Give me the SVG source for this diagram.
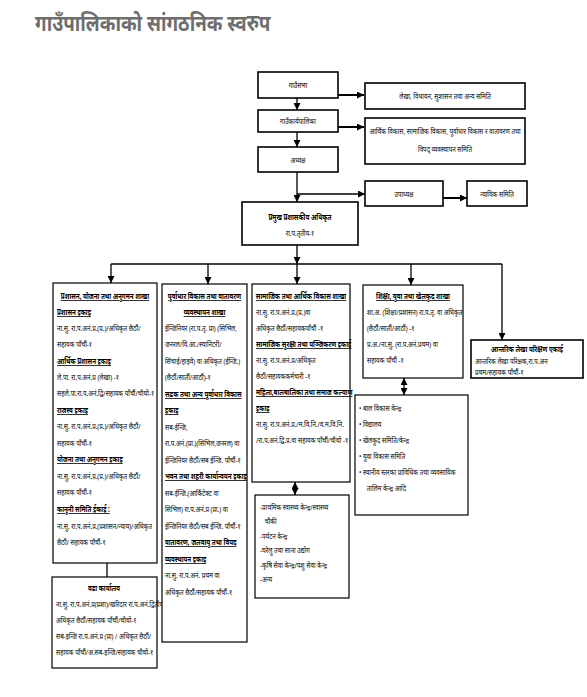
<svg xmlns="http://www.w3.org/2000/svg" width="587" height="697" viewBox="0 0 587 697">
<defs>
<marker id="ah" viewBox="0 0 8 8" refX="8" refY="4" markerWidth="7" markerHeight="7" markerUnits="userSpaceOnUse" orient="auto-start-reverse">
<path d="M0,0 L8,4 L0,8 z" fill="#000"/>
</marker>
<style>
.box{fill:#fff;stroke:#000;stroke-width:1.2}
.bx2{fill:#fff;stroke:#000;stroke-width:1.6}
.t{font-family:"Noto Sans","Noto Sans Devanagari","DejaVu Sans",sans-serif;font-size:8px;fill:#000}
.c{text-anchor:middle}
.h{font-weight:bold;text-decoration:underline}
.bo{font-weight:bold}
.ln{stroke:#000;stroke-width:1.3;fill:none}
.lt{stroke:#000;stroke-width:2;fill:none}
.title{font-family:"Noto Sans","Noto Sans Devanagari",sans-serif;font-size:23px;font-weight:bold;fill:#6e6e6e}
</style>
</defs>
<rect width="587" height="697" fill="#fff"/>
<g transform="translate(35 0) scale(0.82 1)"><text class="title" x="0" y="31">गाउँपालिकाको सांगठनिक स्वरुप</text></g>

<g id="connectors">
<line class="lt" x1="338" y1="95" x2="364" y2="95" marker-end="url(#ah)"/>
<line class="ln" x1="297" y1="98" x2="297" y2="110" marker-end="url(#ah)"/>
<line class="lt" x1="338" y1="127" x2="364" y2="127" marker-end="url(#ah)"/>
<line class="ln" x1="297" y1="132" x2="297" y2="147" marker-end="url(#ah)"/>
<line class="ln" x1="297" y1="172" x2="297" y2="202" marker-end="url(#ah)"/>
<line class="ln" x1="297" y1="194" x2="365" y2="194" marker-end="url(#ah)"/>
<line class="lt" x1="443" y1="198" x2="467" y2="198" marker-end="url(#ah)"/>
<line class="ln" x1="297" y1="245" x2="297" y2="264" marker-end="url(#ah)"/>
<line class="ln" x1="111" y1="264" x2="502" y2="264"/>
<line class="ln" x1="111" y1="264" x2="111" y2="283" marker-end="url(#ah)"/>
<line class="ln" x1="208" y1="264" x2="208" y2="284" marker-end="url(#ah)"/>
<line class="ln" x1="297" y1="264" x2="297" y2="284" marker-end="url(#ah)"/>
<line class="ln" x1="411" y1="264" x2="411" y2="285" marker-end="url(#ah)"/>
<line class="ln" x1="502" y1="264" x2="502" y2="340" marker-end="url(#ah)"/>
<line class="ln" x1="107" y1="563" x2="107" y2="577"/>
<line class="ln" x1="295" y1="482" x2="295" y2="495" marker-start="url(#ah)" marker-end="url(#ah)"/>
<line class="ln" x1="404" y1="378" x2="404" y2="395" marker-start="url(#ah)" marker-end="url(#ah)"/>
</g>

<g id="gaunsabha">
<rect class="bx2" x="258" y="72" width="80" height="26"/>
<g transform="translate(298 0) scale(0.78 1)"><text class="t c" x="0" y="88">गाउँसभा</text></g>
</g>
<g id="samiti1">
<rect class="bx2" x="365" y="83" width="160" height="26"/>
<g transform="translate(445 0) scale(0.78 1)"><text class="t c" x="0" y="99">लेखा, विधायन, सुशासन तथा अन्य समिति</text></g>
</g>
<g id="karyapalika">
<rect class="bx2" x="258" y="110" width="80" height="22"/>
<g transform="translate(298 0) scale(0.78 1)"><text class="t c" x="0" y="124">गाउँकार्यपालिका</text></g>
</g>
<g id="samiti2">
<rect class="bx2" x="365" y="118" width="160" height="46"/>
<g transform="translate(445 0) scale(0.78 1)">
<text class="t c" x="0" y="134">आर्थिक विकास, सामाजिक विकास, पूर्वाधार विकास र वातावरण तथा</text>
<text class="t c" x="0" y="152">विपद् व्यवस्थापन समिति</text>
</g>
</g>
<g id="adhyaksha">
<rect class="bx2" x="258" y="147" width="80" height="25"/>
<g transform="translate(298 0) scale(0.78 1)"><text class="t c" x="0" y="163">अध्यक्ष</text></g>
</g>
<g id="upadhyaksha">
<rect class="bx2" x="365" y="181" width="78" height="25"/>
<g transform="translate(404 0) scale(0.78 1)"><text class="t c" x="0" y="197">उपाध्यक्ष</text></g>
</g>
<g id="nyayik">
<rect class="bx2" x="467" y="181" width="60" height="25"/>
<g transform="translate(497 0) scale(0.78 1)"><text class="t c" x="0" y="197">न्यायिक समिति</text></g>
</g>
<g id="cao">
<rect class="bx2" x="242" y="202" width="116" height="43"/>
<g transform="translate(300 0) scale(0.78 1)">
<text class="t c bo" x="0" y="220">प्रमुख प्रशासकीय अधिकृत</text>
<text class="t c" x="0" y="236">रा.प.तृतीय-१</text>
</g>
</g>

<g id="col1">
<rect class="box" x="53" y="283" width="104" height="280"/>
<g transform="translate(57 0) scale(0.78 1)">
<text class="t c h" x="61.5" y="299">प्रशासन, योजना तथा अनुगमन शाखा</text>
<text class="t h" x="0" y="315">प्रशासन इकाइ</text>
<text class="t" x="0" y="331">ना.सु. रा.प.अनं.प्र.(प्र.)/अधिकृत छैठौं/</text>
<text class="t" x="0" y="347">सहायक पाँचौं-१</text>
<text class="t h" x="0" y="364">आर्थिक प्रशासन इकाइ</text>
<text class="t" x="0" y="380">ले.पा. रा.प.अनं.प्र (लेखा) -१</text>
<text class="t" x="0" y="396">सहले.पा.रा.प.अनं.द्वि/सहायक पाँचौं/चौथो-१</text>
<text class="t h" x="0" y="413">राजस्व इकाइ</text>
<text class="t" x="0" y="429">ना.सु. रा.प.अनं.प्र.(प्र.)/अधिकृत छैठौं/</text>
<text class="t" x="0" y="446">सहायक पाँचौं-१</text>
<text class="t h" x="0" y="462">योजना तथा अनुगमन इकाइ</text>
<text class="t" x="0" y="479">ना.सु. रा.प.अनं.प्र.(प्र.)/अधिकृत छैठौं/</text>
<text class="t" x="0" y="495">सहायक पाँचौं-१</text>
<text class="t h" x="0" y="512">कानूनी समिति ईकाई :</text>
<text class="t" x="0" y="529">ना.सु. रा.प.अनं.प्र.(प्रशासन/न्याय)/अधिकृत</text>
<text class="t" x="0" y="545">छैठौं/ सहायक पाँचौं-१</text>
</g>
</g>

<g id="wada">
<rect class="box" x="52" y="577" width="105" height="91"/>
<g transform="translate(56 0) scale(0.78 1)">
<text class="t c bo" x="61.5" y="591">वडा कार्यालय</text>
<text class="t" x="0" y="607">ना.सु. रा.प.अनं.प्र(प्रशा)/खरिदार रा.प.अनं.द्वितीय/</text>
<text class="t" x="0" y="623">अधिकृत छैठौं/सहायक पाँचौं/चौथो-१</text>
<text class="t" x="0" y="639">सब-इन्जि रा.प.अनं.प्र (प्रा) / अधिकृत छैठौं/</text>
<text class="t" x="0" y="655">सहायक पाँचौं/अ.सब-इन्जि/सहायक चौथो-१</text>
</g>
</g>

<g id="col2">
<rect class="box" x="162" y="284" width="85" height="358"/>
<g transform="translate(165 0) scale(0.78 1)">
<text class="t c h" x="50.6" y="299">पूर्वाधार विकास तथा वातावरण</text>
<text class="t c h" x="50.6" y="315">व्यवस्थापन शाखा</text>
<text class="t" x="0" y="331">ईन्जिनियर (रा.प.तृ. प्रा) (सिभिल,</text>
<text class="t" x="0" y="347">जनरल/वि.आ./स्यानिटरी/</text>
<text class="t" x="0" y="364">सिंचाई/हाइवे) वा अधिकृत (ईन्जि.)</text>
<text class="t" x="0" y="380">(छैठौं/सातौं/आठौं)-१</text>
<text class="t h" x="0" y="397">सडक तथा अन्य पूर्वाधार विकास</text>
<text class="t h" x="0" y="413">इकाइ</text>
<text class="t" x="0" y="430">सब-ईन्जि,</text>
<text class="t" x="0" y="446">रा.प.अनं.(प्रा.)(सिभिल,जनरल) वा</text>
<text class="t" x="0" y="463">ईन्जिनियर छैठौं/सब ईन्जि. पाँचौं-१</text>
<text class="t h" x="0" y="479">भवन तथा शहरी कार्यान्वयन इकाइ</text>
<text class="t" x="0" y="496">सब-ईन्जि.(आर्किटेक्ट वा</text>
<text class="t" x="0" y="512">सिभिल) रा.प.अनं.प्र (प्रा.) वा</text>
<text class="t" x="0" y="529">ईन्जिनियर छैठौं/सब ईन्जि. पाँचौं-१</text>
<text class="t h" x="0" y="545">वातावरण, जलवायु तथा विपद</text>
<text class="t h" x="0" y="562">व्यवस्थापन इकाइ</text>
<text class="t" x="0" y="578">ना.सु. रा.प.अनं. प्रथम वा</text>
<text class="t" x="0" y="595">अधिकृत छैठौं/सहायक पाँचौं-१</text>
</g>
</g>

<g id="col3">
<rect class="box" x="252" y="284" width="98" height="198"/>
<g transform="translate(256 0) scale(0.78 1)">
<text class="t c h" x="57.7" y="299">सामाजिक तथा आर्थिक विकास शाखा</text>
<text class="t" x="0" y="315">ना.सु. रा.प.अनं.प्र.(प्र.)वा</text>
<text class="t" x="0" y="331">अधिकृत छैठौं/सहायकपाँचौं -१</text>
<text class="t h" x="0" y="347">सामाजिक सुरक्षा तथा पञ्जिकरण इकाई</text>
<text class="t" x="0" y="363">ना.सु. रा.प.अनं.प्र/अधिकृत</text>
<text class="t" x="0" y="379">छैठौं/सहायककर्मचारी -१</text>
<text class="t h" x="0" y="395">महिला,बालबालिका तथा समाज कल्याण</text>
<text class="t h" x="0" y="411">इकाइ</text>
<text class="t" x="0" y="427">ना.सु. रा.प.अनं.प्र./म.वि.नि./व.म.वि.नि.</text>
<text class="t" x="0" y="443">/रा.प.अनं.द्वि.प्र.वा सहायक पाँचौं/चौथो -१</text>
</g>
</g>
<g id="col3sub">
<rect class="box" x="255" y="495" width="94" height="103"/>
<g transform="translate(260 0) scale(0.78 1)">
<text class="t" x="0" y="510">-प्राथमिक स्वास्थ्य केन्द्र/स्वास्थ्य</text>
<text class="t" x="6" y="524">चौकी</text>
<text class="t" x="0" y="539">-पर्यटन केन्द्र</text>
<text class="t" x="0" y="553">-घरेलु तथा साना उद्योग</text>
<text class="t" x="0" y="568">-कृषि सेवा केन्द्र/पशु सेवा केन्द्र</text>
<text class="t" x="0" y="582">-अन्य</text>
</g>
</g>

<g id="col4">
<rect class="box" x="363" y="285" width="100" height="93"/>
<g transform="translate(367 0) scale(0.78 1)">
<text class="t c h" x="59" y="299">शिक्षा, युवा तथा खेलकुद शाखा</text>
<text class="t" x="0" y="315">शा.अ. (शिक्षा/प्रशासन) रा.प.तृ. वा अधिकृत</text>
<text class="t" x="0" y="331">(छैठौं/सातौं/आठौं) -१</text>
<text class="t" x="0" y="347">प्र.अ./ना.सु. (रा.प.अनं.प्रथम) वा</text>
<text class="t" x="0" y="363">सहायक पाँचौं -१</text>
</g>
</g>
<g id="col4sub">
<rect class="box" x="355" y="395" width="113" height="120"/>
<g transform="translate(359 0) scale(0.78 1)">
<text class="t" x="0" y="411">•  बाल विकास केन्द्र</text>
<text class="t" x="0" y="427">•  विद्यालय</text>
<text class="t" x="0" y="443">•  खेलकुद समिति/केन्द्र</text>
<text class="t" x="0" y="459">•  युवा विकास समिति</text>
<text class="t" x="0" y="475">•  स्थानीय स्तरका प्राविधिक तथा व्यवसायिक</text>
<text class="t" x="10" y="491">तालिम केन्द्र आदि</text>
</g>
</g>

<g id="lekha">
<rect class="bx2" x="471" y="340" width="112" height="38"/>
<g transform="translate(475 0) scale(0.78 1)">
<text class="t c bo" x="66.7" y="352">आन्तरिक लेखा परिक्षण एकाई</text>
<text class="t" x="0" y="364">आन्तरिक लेखा परिक्षक,रा.प.अन</text>
<text class="t" x="0" y="375">प्रथम/सहायक पाँचौं-१</text>
</g>
</g>
</svg>
